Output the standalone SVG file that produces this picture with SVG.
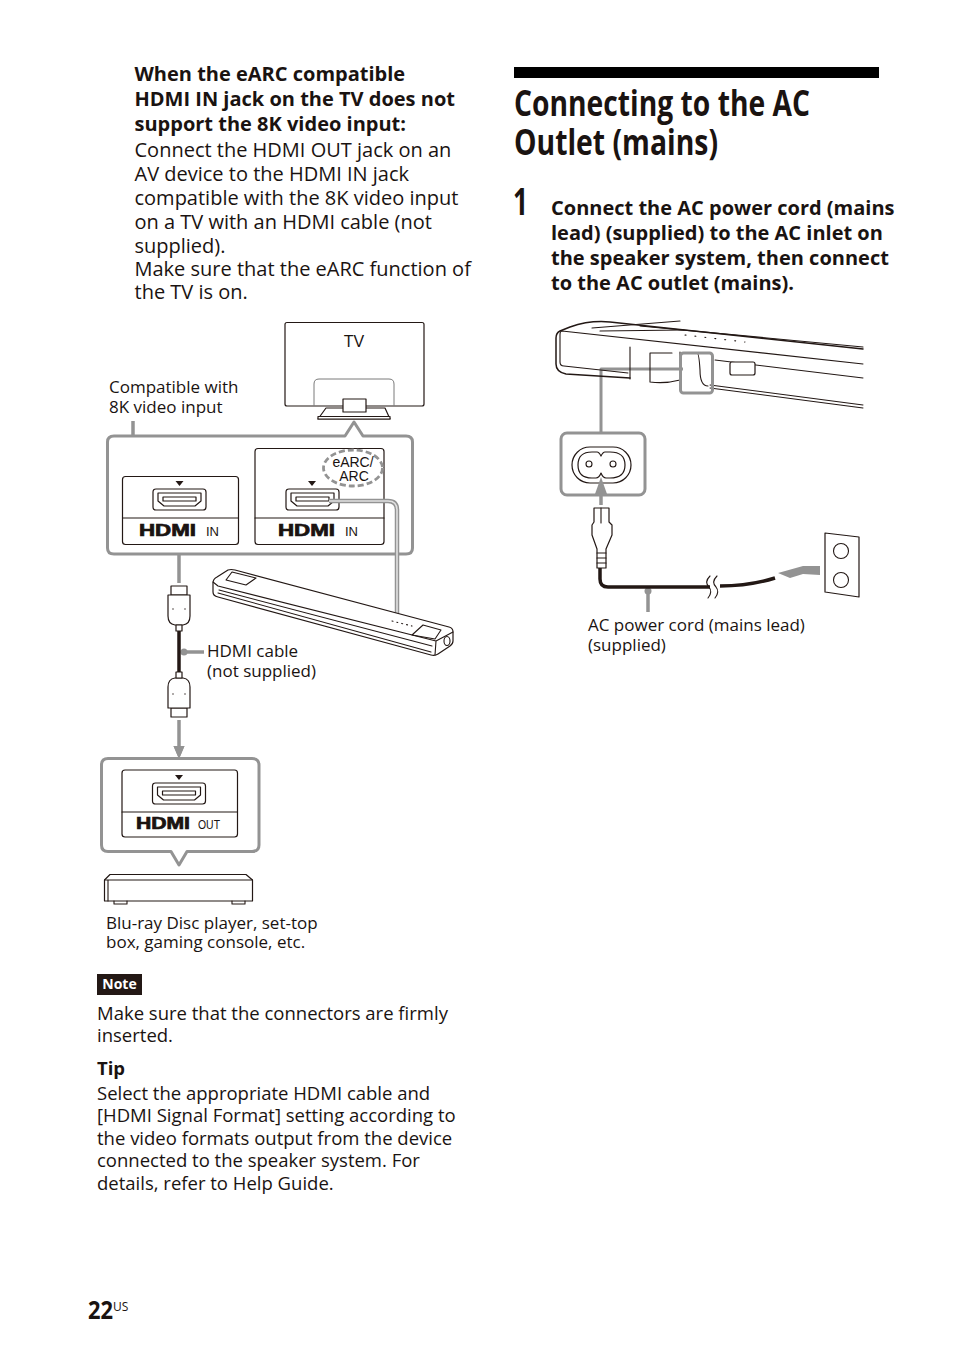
<svg xmlns="http://www.w3.org/2000/svg" width="954" height="1357" viewBox="0 0 954 1357">
<style>
text{font-family:"Open Sans","Noto Sans",sans-serif;fill:#1a1311}
.b{font-size:20px}
.bb{font-size:20px;font-weight:700}
.c{font-size:17px}
.s{font-size:18.5px}
.h{font-size:36px;font-weight:700}
.l{font-family:"Liberation Sans",sans-serif;font-size:14px}
.hd{font-family:"Liberation Sans",sans-serif;font-weight:700;font-size:15px}
.k{fill:#fff;stroke:#231815;stroke-width:1.2;stroke-linejoin:round}
.n{fill:none;stroke:#231815;stroke-width:1.1;stroke-linejoin:round;stroke-linecap:round}
.g{fill:none;stroke:#939393;stroke-width:3;stroke-linejoin:round}
.gf{fill:#939393;stroke:none}
</style>
<defs>
<g id="port"><path class="k" d="M3 0H50Q53 0 53 3V18Q53 21 50 21H3Q0 21 0 18V3Q0 0 3 0Z"/><path class="k" d="M5 4H48V12L42 17H11L5 12Z"/><rect class="k" x="10" y="8" width="33" height="4"/></g>
<path id="tri" d="M-4 0H4L0 5Z" fill="#231815"/>
<g id="plug"><path class="k" d="M3 0H19V9H3Z"/><path class="k" d="M0 9H22V30Q22 38 15 39H7Q0 38 0 30Z"/><rect class="k" x="8" y="39" width="6" height="6"/><circle cx="5" cy="23" r=".7" fill="#231815"/><circle cx="17" cy="23" r=".7" fill="#231815"/></g>
</defs>

<g id="text-left">
<text class="bb" x="134.500" y="81">When the eARC compatible</text>
<text class="bb" x="134.500" y="106">HDMI IN jack on the TV does not</text>
<text class="bb" x="134.500" y="131">support the 8K video input:</text>
<text class="b" x="134.500" y="157">Connect the HDMI OUT jack on an</text>
<text class="b" x="134.500" y="181">AV device to the HDMI IN jack</text>
<text class="b" x="134.500" y="205">compatible with the 8K video input</text>
<text class="b" x="134.500" y="229">on a TV with an HDMI cable (not</text>
<text class="b" x="134.500" y="253">supplied).</text>
<text class="b" x="134.500" y="276">Make sure that the eARC function of</text>
<text class="b" x="134.500" y="299">the TV is on.</text>
</g>

<g id="connectors">
<path class="g" d="M601 433V369H683"/>
<path class="g" style="stroke-width:3.500" d="M133 421V520"/><circle class="gf" cx="133" cy="523" r="3.500"/>
<path class="g" style="stroke-width:3.500" d="M179 583V553"/><path class="gf" d="M179 541L184.500 555H173.500Z"/>
<path class="g" style="stroke-width:3.500" d="M179 720V750"/><path class="gf" d="M179 759L184.500 746H173.500Z"/>
<path class="g" style="stroke-width:3.500" d="M204 652H186"/><circle class="gf" cx="184" cy="652" r="3.500"/>
<path class="g" style="stroke-width:3.500" d="M648 612V592"/><circle class="gf" cx="648" cy="591" r="3.500"/>
<path class="g" style="stroke-width:3.500" d="M601 505V491"/><path class="gf" d="M601 477L607 494H595Z"/>
</g>

<g id="tv">
<rect class="k" x="285" y="322.500" width="139" height="83.500" rx="2"/>
<path fill="none" stroke="#7a7a7a" stroke-width="1" d="M314 406V384Q314 379 319 379H389Q394 379 394 384V406"/>
<path class="k" d="M326 408H385L390 419H318Z"/>
<path class="k" d="M318 416.500H390V419H318Z"/>
<rect class="k" x="343" y="399" width="23" height="13"/>
<text class="l" x="354" y="347" text-anchor="middle" style="font-size:16px">TV</text>
</g>

<g id="hdmi-panel">
<path fill="#fff" stroke="#939393" stroke-width="3" stroke-linejoin="round" d="M114 436H345L354 422L363 436H406Q412.500 436 412.500 442V548Q412.500 554 406 554H114Q107.500 554 107.500 548V442Q107.500 436 114 436Z"/>
<rect class="k" x="122.500" y="476.500" width="116" height="68" rx="3"/>
<path class="n" d="M122.500 518H238.500"/>
<use href="#port" x="153" y="489"/><use href="#tri" x="179.500" y="481"/>
<text class="hd" x="139" y="536" textLength="57" lengthAdjust="spacingAndGlyphs" style="font-size:16px;font-weight:700;stroke:#1a1311;stroke-width:.7">HDMI</text>
<text class="l" x="206" y="536" style="font-size:13px">IN</text>
<rect class="k" x="255" y="448.500" width="129" height="96" rx="3"/>
<path class="n" d="M255 518H384"/>
<use href="#port" x="286" y="489"/><use href="#tri" x="312" y="481"/>
<text class="hd" x="278" y="536" textLength="57" lengthAdjust="spacingAndGlyphs" style="font-size:16px;font-weight:700;stroke:#1a1311;stroke-width:.7">HDMI</text>
<text class="l" x="345" y="536" style="font-size:13px">IN</text>
<ellipse cx="353" cy="468" rx="29.500" ry="18" fill="#fff" stroke="#939393" stroke-width="2.800" stroke-dasharray="6 3"/>
<text class="l" x="353" y="467" text-anchor="middle">eARC/</text>
<text class="l" x="354" y="481" text-anchor="middle">ARC</text>
</g>

<g id="soundbar-link">
<path fill="none" stroke="#939393" stroke-width="4.500" d="M329 501H388Q397 501 397 510V616"/>
<path fill="none" stroke="#e2e2e2" stroke-width="1.600" d="M329 501H388Q397 501 397 510V616"/>
</g>

<g id="soundbar">
<path class="k" d="M213 583Q213 579 217 577L228 570Q231 569 235 570L449 627Q453 628 453 632V641Q453 644 450 646L438 654Q435 656 431 655L218 597Q213 596 213 592Z"/>
<path class="n" d="M213 582L218 586L436 641L453 632M436 641L435 655M219 590L432 646M218 593L431 652"/>
<path class="n" d="M226 580L232 572L256 578L246 585ZM412 635L423 625L441 630L435 639Z"/>
<ellipse class="n" cx="447" cy="641" rx="3" ry="4.500"/>
<path class="n" stroke-dasharray="1 4" d="M392 621L412 626"/>
</g>

<g id="hdmi-cable">
<use href="#plug" x="168" y="586"/>
<path d="M179 631V673" stroke="#231815" stroke-width="3.500" fill="none"/>
<use href="#plug" transform="translate(190 717) rotate(180)"/>
</g>
<text class="c" x="207" y="657">HDMI cable</text>
<text class="c" x="207" y="677">(not supplied)</text>
<text class="c" x="109" y="393">Compatible with</text>
<text class="c" x="109" y="413">8K video input</text>

<g id="out-panel">
<path fill="#fff" stroke="#939393" stroke-width="3" stroke-linejoin="round" d="M108 758.500H252Q259 758.500 259 765V845Q259 851.500 252 851.500H187L179 865L171 851.500H108Q101.500 851.500 101.500 845V765Q101.500 758.500 108 758.500Z"/>
<path class="gf" d="M179 759L184.500 746H173.500Z"/>
<rect class="k" x="122" y="770" width="115.500" height="67" rx="3"/>
<path class="n" d="M122 812H237.500"/>
<use href="#port" x="152.500" y="783"/><use href="#tri" x="179" y="775"/>
<text class="hd" x="136" y="829" textLength="54" lengthAdjust="spacingAndGlyphs" style="font-size:16px;font-weight:700;stroke:#1a1311;stroke-width:.7">HDMI</text>
<text class="l" x="198" y="829" textLength="22" lengthAdjust="spacingAndGlyphs" style="font-size:13px">OUT</text>
</g>

<g id="player">
<path class="k" d="M110 874.500H246L252.500 880V901H104.500V880Z"/>
<path class="n" d="M104.500 880H252.500M108 880V901"/>
<path class="n" d="M114 901V904H127V901M232 901V904H245V901"/>
<text class="c" x="106" y="929">Blu-ray Disc player, set-top</text>
<text class="c" x="106" y="948">box, gaming console, etc.</text>
</g>

<g id="notes">
<rect x="97" y="974" width="45" height="21" fill="#231815"/>
<text x="119.500" y="989" text-anchor="middle" style="fill:#fff;font-size:14px;font-weight:700">Note</text>
<text class="s" x="97" y="1020">Make sure that the connectors are firmly</text>
<text class="s" x="97" y="1042">inserted.</text>
<text class="s" x="97" y="1075" style="font-weight:700">Tip</text>
<text class="s" x="97" y="1100">Select the appropriate HDMI cable and</text>
<text class="s" x="97" y="1122">[HDMI Signal Format] setting according to</text>
<text class="s" x="97" y="1145">the video formats output from the device</text>
<text class="s" x="97" y="1167">connected to the speaker system. For</text>
<text class="s" x="97" y="1190">details, refer to Help Guide.</text>
</g>

<g id="page-number">
<text x="88" y="1319" textLength="25" lengthAdjust="spacingAndGlyphs" style="font-size:25px;font-weight:700">22</text>
<text x="113" y="1311" style="font-size:12px">US</text>
</g>

<g id="heading">
<rect x="514" y="67" width="365" height="11" fill="#000"/>
<text class="h" x="514" y="116" textLength="296" lengthAdjust="spacingAndGlyphs">Connecting to the AC</text>
<text class="h" x="514" y="155" textLength="204" lengthAdjust="spacingAndGlyphs">Outlet (mains)</text>
<text x="513" y="215" textLength="15" lengthAdjust="spacingAndGlyphs" style="font-size:38px;font-weight:700">1</text>
<text class="bb" x="551" y="215">Connect the AC power cord (mains</text>
<text class="bb" x="551" y="240">lead) (supplied) to the AC inlet on</text>
<text class="bb" x="551" y="265">the speaker system, then connect</text>
<text class="bb" x="551" y="290">to the AC outlet (mains).</text>
</g>

<g id="bar-closeup">
<path class="n" style="stroke-width:1.500" d="M863 349L610 322Q590 320 570 327L560 331Q556 333 556 338V364Q556 372 566 374L630 378"/>
<path class="n" d="M863 347L640 326M863 364L562 331Q560 331 560 335V362Q560 366 564 366L628 373M863 405L710 385M863 408L710 388M863 378L715 360"/>
<path class="n" d="M600 331L684 330M592 328L680 321"/>
<path class="n" d="M630 347V379M650 353V382Q665 384 680 380M650 353H672M680 352V380"/>
<path class="n" d="M696 353H697Q699 353 700 370Q700 386 708 386"/>
<rect class="k" x="730" y="362" width="25" height="13" rx="2"/>
<path class="n" stroke-dasharray="1 9" d="M685 335L745 342"/>
<rect x="680.500" y="353" width="32" height="40" rx="3" fill="none" stroke="#939393" stroke-width="3"/>
</g>

<g id="ac-inlet">
<rect x="561" y="433" width="84" height="62" rx="6" fill="#fff" stroke="#939393" stroke-width="3"/>
<rect x="572" y="447" width="59" height="36" rx="18" class="k"/>
<path class="k" d="M592 452H597Q599 452 601 456Q603 452 605 452H610Q625 452 625 465Q625 478 610 478H606Q603 478 601 473Q599 478 596 478H592Q578 478 578 465Q578 452 592 452Z"/>
<circle class="n" cx="589" cy="464" r="3"/><circle class="n" cx="613" cy="464" r="3"/>
<path class="gf" d="M601 477L607 494H595Z"/>
</g>

<g id="ac-cord">
<path fill="none" stroke="#231815" stroke-width="3.500" d="M600 568V579Q600 587 608 587H710M720 586Q750 586 775 578"/>
<path class="k" d="M594 508H609V522L612 525V535L606 549V568H597V549L592 535V525L594 522Z"/>
<path class="n" d="M601 508V523M597 553H606M597 558H606M597 563H606"/>
<path class="n" d="M710 576Q704 582 709 587Q713 592 708 598M717 576Q711 582 716 587Q720 592 715 598"/>
<path fill="#939393" d="M778 573L803 566H820V575L803 574L790 578Z"/>
<text class="c" x="588" y="631">AC power cord (mains lead)</text>
<text class="c" x="588" y="651">(supplied)</text>
</g>

<g id="wall-outlet">
<path class="k" d="M825 533L859 537V597L825 592Z"/>
<circle class="n" cx="841" cy="551" r="7.500"/><circle class="n" cx="841" cy="580" r="7.500"/>
</g>
</svg>
